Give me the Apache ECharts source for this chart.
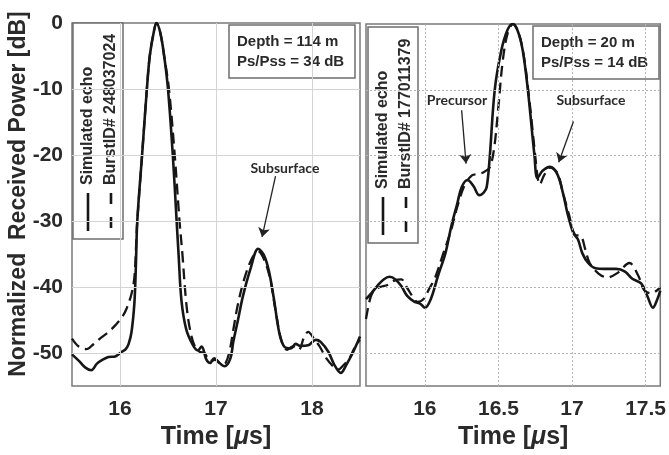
<!DOCTYPE html>
<html>
<head>
<meta charset="utf-8">
<script src="https://cdn.jsdelivr.net/npm/echarts@6/dist/echarts.min.js"></script>
<style>
  html, body { margin: 0; padding: 0; background: #ffffff; }
  #chart { width: 669px; height: 455px; }
</style>
</head>
<body>
<div id="chart"></div>
<script>
// Left panel: depth 114 m echo (time in microseconds, power in dB)
const leftSimTime = [15.50, 15.58, 15.64, 15.70, 15.76, 15.82, 15.88, 15.95, 16.02, 16.06, 16.09, 16.12, 16.15, 16.165, 16.18, 16.23, 16.28, 16.31, 16.35, 16.38, 16.42, 16.46, 16.50, 16.55, 16.59, 16.61, 16.64, 16.69, 16.76, 16.81, 16.85, 16.90, 16.94, 16.98, 17.02, 17.09, 17.15, 17.18, 17.23, 17.28, 17.36, 17.44, 17.50, 17.55, 17.60, 17.66, 17.71, 17.78, 17.83, 17.88, 17.96, 18.04, 18.09, 18.17, 18.23, 18.30, 18.36, 18.43, 18.50];
const leftSimPower = [-50.2, -51.3, -52.2, -52.6, -51.6, -51.0, -50.6, -50.5, -49.8, -49.4, -48.6, -46.8, -42.4, -37.0, -30.0, -20.0, -10.0, -5.0, -1.5, 0, -1.5, -5.0, -10.0, -20.0, -30.0, -35.0, -42.0, -46.4, -48.8, -49.6, -49.0, -51.0, -51.5, -50.8, -51.3, -52.0, -50.8, -48.3, -44.9, -41.4, -37.2, -34.2, -35.2, -37.5, -41.5, -47.0, -49.0, -49.3, -48.6, -48.9, -48.8, -48.0, -48.3, -49.8, -51.7, -53.0, -51.7, -49.8, -47.5];
const leftBurstTime = [15.50, 15.57, 15.65, 15.72, 15.80, 15.88, 15.95, 16.02, 16.07, 16.12, 16.15, 16.17, 16.18, 16.23, 16.28, 16.31, 16.35, 16.38, 16.42, 16.46, 16.51, 16.57, 16.62, 16.65, 16.69, 16.73, 16.78, 16.83, 16.88, 16.94, 17.00, 17.06, 17.10, 17.14, 17.18, 17.23, 17.30, 17.38, 17.44, 17.50, 17.56, 17.62, 17.68, 17.74, 17.80, 17.86, 17.92, 17.96, 18.02, 18.08, 18.15, 18.22, 18.27, 18.33, 18.39, 18.45, 18.50];
const leftBurstPower = [-47.8, -49.0, -49.4, -48.7, -47.7, -46.8, -45.8, -44.6, -43.2, -41.0, -38.5, -33.0, -30.0, -20.0, -10.0, -5.0, -1.5, 0, -1.5, -5.0, -10.0, -20.0, -30.0, -35.0, -42.4, -46.5, -49.0, -49.8, -50.0, -51.2, -51.0, -51.8, -51.5, -49.8, -46.5, -42.5, -38.5, -35.5, -34.6, -35.8, -38.5, -43.5, -48.0, -49.5, -49.0, -49.5, -47.5, -46.8, -47.8, -49.0, -50.8, -52.0, -52.5, -51.8, -50.8, -49.0, -48.0];

// Right panel: depth 20 m echo
const rightSimTime = [15.60, 15.64, 15.68, 15.72, 15.76, 15.80, 15.84, 15.88, 15.93, 15.97, 16.00, 16.04, 16.09, 16.14, 16.18, 16.22, 16.25, 16.29, 16.33, 16.37, 16.40, 16.42, 16.44, 16.475, 16.52, 16.56, 16.595, 16.63, 16.665, 16.70, 16.745, 16.765, 16.80, 16.85, 16.90, 16.94, 16.97, 17.01, 17.04, 17.07, 17.11, 17.16, 17.22, 17.30, 17.36, 17.41, 17.47, 17.51, 17.55, 17.58, 17.60];
const rightSimPower = [-41.8, -40.8, -39.7, -38.8, -38.4, -38.8, -39.8, -41.3, -42.2, -42.5, -43.1, -41.8, -38.2, -34.8, -30.7, -27.3, -24.8, -23.7, -24.6, -26.0, -25.6, -24.8, -20.5, -10.0, -4.0, -1.0, 0, -1.0, -4.0, -10.0, -20.0, -23.4, -22.3, -21.7, -22.8, -25.8, -28.8, -31.8, -32.7, -34.8, -36.3, -37.1, -37.2, -37.2, -37.6, -38.7, -39.4, -41.2, -43.1, -41.8, -40.5];
const rightBurstTime = [15.60, 15.62, 15.64, 15.68, 15.75, 15.80, 15.84, 15.88, 15.92, 15.95, 15.99, 16.03, 16.07, 16.12, 16.18, 16.22, 16.27, 16.32, 16.36, 16.40, 16.44, 16.47, 16.50, 16.53, 16.565, 16.60, 16.635, 16.67, 16.705, 16.75, 16.765, 16.78, 16.81, 16.85, 16.90, 16.94, 16.98, 17.02, 17.06, 17.09, 17.12, 17.18, 17.24, 17.31, 17.39, 17.45, 17.49, 17.54, 17.60];
const rightBurstPower = [-44.8, -42.5, -41.0, -40.1, -39.6, -38.9, -38.8, -40.1, -41.5, -42.2, -41.8, -40.2, -38.5, -35.2, -31.2, -27.8, -24.5, -23.0, -22.8, -22.5, -21.8, -19.0, -12.5, -5.5, -1.2, 0, -1.2, -4.5, -10.5, -20.0, -23.0, -24.4, -23.0, -21.8, -22.6, -25.8, -29.0, -32.0, -32.2, -34.2, -36.3, -37.9, -38.5, -37.8, -36.3, -38.2, -40.4, -40.9, -40.0];

// Axis ticks
const powerTicks = [0, -10, -20, -30, -40, -50];
const leftTimeTicks = [16, 17, 18];
const rightTimeTicks = [16, 16.5, 17, 17.5];

const pairs = (xs, ys) => xs.map((x, i) => [x, ys[i]]);
const pick = ticks => v => ticks.some(t => Math.abs(t - v) < 1e-6) ? String(+v.toFixed(2)) : '';

const FONT = '"Liberation Sans", Arial, sans-serif';
const INK = '#161616';
const FRAME = '#7a7a7a';

function gridLines(xi, ticksX, style) {
  const data = powerTicks.filter(v => v !== 0).map(v => ({ yAxis: v }))
    .concat(ticksX.map(v => ({ xAxis: v })));
  return {
    type: 'line', xAxisIndex: xi, yAxisIndex: xi, data: [], z: 1, silent: true,
    markLine: { silent: true, symbol: 'none', label: { show: false },
      lineStyle: style, data: data, animation: false }
  };
}

// Pointer arrows for the annotated reflections, in data coordinates
function arrows(xi, segs) {
  return {
    type: 'line', xAxisIndex: xi, yAxisIndex: xi, data: [], z: 5, silent: true,
    markLine: { silent: true, symbol: ['none', 'arrow'], symbolSize: 9, label: { show: false },
      lineStyle: { color: '#222', width: 1.3, type: 'solid' }, animation: false,
      data: segs.map(s => [{ coord: s[0] }, { coord: s[1] }]) }
  };
}

function curve(xi, data, dashed) {
  return {
    type: 'line', xAxisIndex: xi, yAxisIndex: xi, data: data, showSymbol: false,
    smooth: 0.35, z: 3, animation: false,
    lineStyle: dashed ? { color: INK, width: 2.3, type: [11, 6] } : { color: INK, width: 2.6 }
  };
}

const yAxisBase = {
  type: 'value', min: -55, max: 0, interval: 5,
  axisLine: { show: false }, axisTick: { show: false }, splitLine: { show: false }
};
const xLabel = { fontFamily: FONT, fontWeight: 'bold', fontSize: 21, color: '#2a2a2a', margin: 13 };

function legendBox(x, y, id) {
  return {
    type: 'group', z: 100, children: [
      { type: 'rect', shape: { x: x, y: y, width: 50, height: 216 },
        style: { fill: '#ffffff', stroke: '#6e6e6e', lineWidth: 1.5 } },
      { type: 'line', shape: { x1: x + 15, y1: y + 170, x2: x + 15, y2: y + 208 },
        style: { stroke: INK, lineWidth: 2.6 } },
      { type: 'line', shape: { x1: x + 38, y1: y + 170, x2: x + 38, y2: y + 208 },
        style: { stroke: INK, lineWidth: 2.6, lineDash: [11, 13] } },
      { type: 'text', x: x + 15, y: y + 162, rotation: Math.PI / 2,
        style: { text: 'Simulated echo', font: 'bold 16px ' + FONT, fill: '#2a2a2a',
          textAlign: 'left', textVerticalAlign: 'middle' } },
      { type: 'text', x: x + 38, y: y + 162, rotation: Math.PI / 2,
        style: { text: 'BurstID# ' + id, font: 'bold 16px ' + FONT, fill: '#2a2a2a',
          textAlign: 'left', textVerticalAlign: 'middle' } }
    ]
  };
}

function infoBox(x, y, depth, ratio) {
  return {
    type: 'group', z: 100, children: [
      { type: 'rect', shape: { x: x, y: y, width: 126, height: 53 },
        style: { fill: '#ffffff', stroke: '#6e6e6e', lineWidth: 1.5 } },
      { type: 'text', x: x + 8, y: y + 17,
        style: { text: 'Depth = ' + depth + ' m', font: 'bold 15px ' + FONT, fill: '#2a2a2a',
          textAlign: 'left', textVerticalAlign: 'middle' } },
      { type: 'text', x: x + 8, y: y + 37,
        style: { text: 'Ps/Pss = ' + ratio + ' dB', font: 'bold 15px ' + FONT, fill: '#2a2a2a',
          textAlign: 'left', textVerticalAlign: 'middle' } }
    ]
  };
}

function note(x, y, text) {
  return { type: 'text', x: x, y: y, z: 100,
    style: { text: text, font: 'bold 14px Lato, "Open Sans", sans-serif', fill: '#2a2a2a',
      textAlign: 'center', textVerticalAlign: 'middle' } };
}

const timeName = {
  name: '{t|Time [}{m|μ}{t|s]}', nameLocation: 'middle', nameGap: 35,
  nameTextStyle: { rich: {
    t: { fontFamily: FONT, fontWeight: 'bold', fontSize: 25, color: '#2a2a2a' },
    m: { fontFamily: FONT, fontWeight: 'bold', fontStyle: 'italic', fontSize: 25, color: '#2a2a2a' }
  } }
};

const chart = echarts.init(document.getElementById('chart'), null, { renderer: 'canvas' });
chart.setOption({
  backgroundColor: '#ffffff',
  animation: false,
  grid: [
    { left: 72, top: 23, width: 288, height: 371, show: true, backgroundColor: '#ffffff',
      borderColor: FRAME, borderWidth: 1.5 },
    { left: 366, top: 24, width: 295, height: 369, show: true, backgroundColor: '#ffffff',
      borderColor: FRAME, borderWidth: 1.5 }
  ],
  xAxis: [
    Object.assign({ type: 'value', gridIndex: 0, min: 15.5, max: 18.5, interval: 0.5,
      axisLine: { show: false }, axisTick: { show: false }, splitLine: { show: false },
      axisLabel: Object.assign({ formatter: pick(leftTimeTicks) }, xLabel) }, timeName),
    Object.assign({ type: 'value', gridIndex: 1, min: 15.6, max: 17.6, interval: 0.1,
      axisLine: { show: false }, axisTick: { show: false }, splitLine: { show: false },
      axisLabel: Object.assign({ formatter: pick(rightTimeTicks) }, xLabel) }, timeName)
  ],
  yAxis: [
    Object.assign({ gridIndex: 0,
      axisLabel: { formatter: pick(powerTicks), fontFamily: FONT, fontWeight: 'bold',
        fontSize: 21, color: '#2a2a2a', margin: 9 } }, yAxisBase),
    Object.assign({ gridIndex: 1, axisLabel: { show: false } }, yAxisBase)
  ],
  series: [
    gridLines(0, leftTimeTicks, { color: '#d4d4d4', width: 1, type: 'solid' }),
    gridLines(1, rightTimeTicks, { color: '#b4b4b4', width: 1, type: [2, 2] }),
    curve(0, pairs(leftBurstTime, leftBurstPower), true),
    curve(0, pairs(leftSimTime, leftSimPower), false),
    curve(1, pairs(rightBurstTime, rightBurstPower), true),
    curve(1, pairs(rightSimTime, rightSimPower), false),
    arrows(0, [[[17.62, -23.2], [17.48, -32.4]]]),
    arrows(1, [[[16.25, -13.1], [16.28, -21.2]], [[17.01, -14.8], [16.91, -21.0]]])
  ],
  graphic: [
    { type: 'text', x: 19, y: 194, rotation: Math.PI / 2, z: 100,
      style: { text: 'Normalized  Received Power [dB]', font: 'bold 23px ' + FONT, fill: '#2a2a2a',
        textAlign: 'center', textVerticalAlign: 'middle' } },
    legendBox(73, 23, '248037024'),
    legendBox(368, 27, '177011379'),
    infoBox(229, 25, '114', '34'),
    infoBox(533, 26, '20', '14'),
    note(285, 168, 'Subsurface'),
    note(457, 100, 'Precursor'),
    note(591, 100, 'Subsurface')
  ]
});
</script>
</body>
</html>
